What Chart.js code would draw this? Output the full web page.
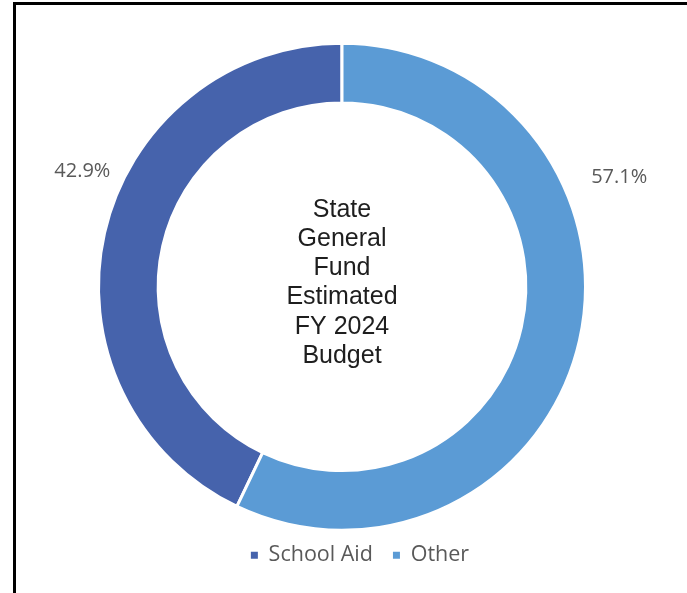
<!DOCTYPE html>
<html lang="en">
<head>
    <meta charset="UTF-8">
    <script src="https://cdn.jsdelivr.net/npm/chart.js@4"></script>
    <title>State General Fund Estimated FY 2024 Budget</title>
    <style>
      body { margin: 0; background: #fff; }
      #wrap { position: relative; width: 687px; height: 593px; }
      #frame { position: absolute; left: 13px; top: 2px; right: 0; bottom: 0;
               border-left: 3px solid #000; border-top: 3px solid #000; pointer-events: none; }
      canvas { position: absolute; left: 0; top: 0; }
    </style>
</head>
<body>
    <div id="wrap">
      <canvas id="myChart" width="687" height="593"></canvas>
      <div id="frame"></div>
    </div>

    <script>
      const categories = ['School Aid', 'Other'];
      const shares = [42.9, 57.1];
      const colors = ['#4663ac', '#5b9bd5'];
      const centerLines = ['State', 'General', 'Fund', 'Estimated', 'FY 2024', 'Budget'];

      // where each % label sits: fraction along its slice, distance from the centre
      const labelFrac = [0.572, 0.333];
      const labelDist = [284, 298];

      const total = shares.reduce((a, b) => a + b, 0);

      const labelsPlugin = {
        id: 'labelsPlugin',
        afterLayout(chart) {
          // legend in the original sits a little right of the ring
          chart.legend.left += 18;
          chart.legend.right += 18;
        },
        afterDatasetsDraw(chart) {
          const c = chart.ctx;
          const arcs = chart.getDatasetMeta(0).data;
          c.save();
          c.textAlign = 'center';
          c.textBaseline = 'middle';
          c.fillStyle = '#595959';
          c.font = '20px "Open Sans"';
          arcs.forEach((arc, i) => {
            const p = arc.getProps(['x', 'y', 'startAngle', 'endAngle']);
            const a = p.startAngle + labelFrac[i] * (p.endAngle - p.startAngle);
            c.fillText(shares[i].toFixed(1) + '%', p.x + Math.cos(a) * labelDist[i], p.y + Math.sin(a) * labelDist[i]);
          });
          const cx = arcs[0].x, cy = arcs[0].y;
          c.fillStyle = '#1e1e1e';
          c.font = '25px "Liberation Sans"';
          c.textBaseline = 'alphabetic';
          centerLines.forEach((t, i) => {
            c.fillText(t, cx, cy + (i - (centerLines.length - 1) / 2) * 29.2 + 3);
          });
          c.restore();
        }
      };

      const ctx = document.getElementById('myChart');
      new Chart(ctx, {
        type: 'doughnut',
        data: {
          labels: categories,
          datasets: [{
            data: shares,
            backgroundColor: colors,
            borderColor: '#fff',
            borderWidth: 3,
            hoverOffset: 0
          }]
        },
        options: {
          responsive: false,
          animation: false,
          radius: 243.5,
          cutout: '75.5%',
          rotation: -shares[0] / total * 360,
          layout: { padding: { top: 49, bottom: 17, left: 0, right: 3 } },
          plugins: {
            tooltip: { enabled: false },
            legend: {
              position: 'bottom',
              labels: {
                boxWidth: 7,
                boxHeight: 7,
                padding: 20,
                color: '#595959',
                font: { family: 'Open Sans', size: 21.5 },
                generateLabels(chart) {
                  const items = Chart.DoughnutController.overrides.plugins.legend.labels.generateLabels(chart);
                  return items.map(it => ({ ...it, lineWidth: 0 }));
                }
              }
            }
          }
        },
        plugins: [labelsPlugin]
      });
    </script>
</body>
</html>
